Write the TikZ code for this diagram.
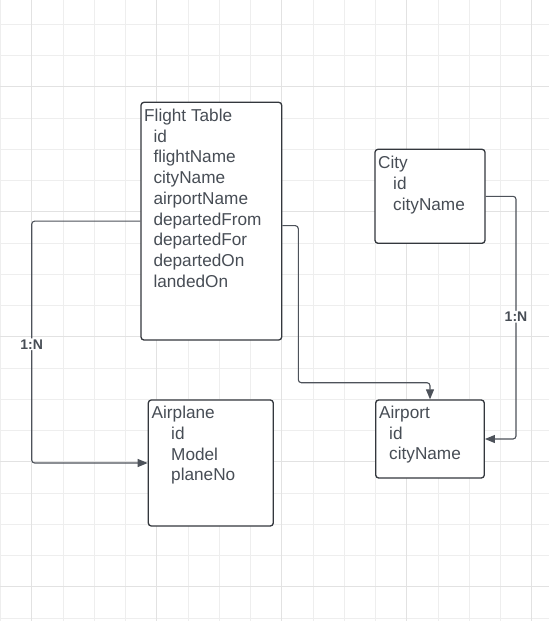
\documentclass[tikz,border=0pt]{standalone}
\usepackage{fontspec}
\setmainfont{Liberation Sans}
\usetikzlibrary{arrows.meta,calc}
\definecolor{ink}{HTML}{33373D}
\definecolor{wire}{HTML}{4D525A}
\definecolor{txt}{HTML}{474D55}
\definecolor{gridminor}{HTML}{EEEEEE}
\definecolor{gridmajor}{HTML}{E2E2E2}
\begin{document}
\begin{tikzpicture}[x=1pt,y=-1pt,
    entity/.style={draw=ink, line width=1.3pt, rounded corners=3pt, fill=white, inner sep=0pt},
    field/.style={anchor=base west, inner sep=0pt, text=txt, font=\fontsize{17.2}{20}\selectfont},
    link/.style={draw=wire, line width=1.1pt, rounded corners=3pt, -{Triangle[length=10pt,width=8pt]}},
    card/.style={fill=white, inner sep=1pt, text=txt, font=\fontsize{14}{15}\selectfont\bfseries}]
      \fill[white] (0,0) rectangle (549,621);
      \useasboundingbox (0,0) rectangle (549,621);
      \foreach \k in {0,...,17} \draw[gridminor, line width=1pt] (0.5+31.25*\k,0) -- ++(0,621);
      \foreach \k in {0,...,19} \draw[gridminor, line width=1pt] (0,24.3+31.25*\k) -- ++(549,0);
      \foreach \k in {1,5,...,17} \draw[gridmajor, line width=1pt] (0.5+31.25*\k,0) -- ++(0,621);
      \foreach \k in {2,6,...,18} \draw[gridmajor, line width=1pt] (0,24.3+31.25*\k) -- ++(549,0);

      \node[entity, minimum width=140.7pt, minimum height=237.7pt] (flight) at (211.35,221.15) {};
      \node[entity, minimum width=110pt, minimum height=94pt] (city) at (430,196.3) {};
      \node[entity, minimum width=125pt, minimum height=126pt] (airplane) at (210.8,463) {};
      \node[entity, minimum width=108.6pt, minimum height=78pt] (airport) at (430,439) {};

      \node[field] (flight-t) at (144,121.5) {Flight Table};
      \foreach \f [count=\i] in {id,flightName,cityName,airportName,departedFrom,departedFor,departedOn,landedOn}
        \node[field] (flight-\i) at (153.3,121.5+20.7*\i) {\f};
      \node[field] (city-t) at (378,168.7) {City};
      \foreach \f [count=\i] in {id,cityName}
        \node[field] (city-\i) at (393,168.7+20.7*\i) {\f};
      \node[field] (airplane-t) at (151.5,418.7) {Airplane};
      \foreach \f [count=\i] in {id,Model,planeNo}
        \node[field] (airplane-\i) at (171,418.7+20.7*\i) {\f};
      \node[field] (airport-t) at (379,418.3) {Airport};
      \foreach \f [count=\i] in {id,cityName}
        \node[field] (airport-\i) at (389,418.3+20.7*\i) {\f};

      \coordinate (lft) at (31.7,344.3);
      \coordinate (rgt) at (516,316.7);
      \coordinate (via) at (298.3,382.7);
      \draw[link] (flight.west) -| (lft) node[card] {1:N} |- (airplane.west);
      \draw[link] ($(flight.east)+(0,4.5)$) -| (via) -| (airport.north);
      \draw[link] (city.east) -| (rgt) node[card] {1:N} |- (airport.east);
    \end{tikzpicture}
\end{document}
